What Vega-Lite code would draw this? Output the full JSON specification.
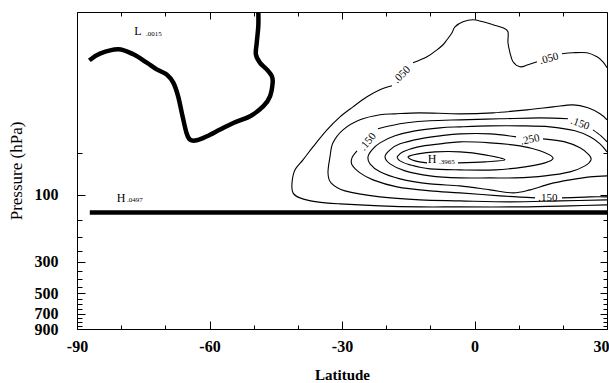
{
  "$schema": "https://vega.github.io/schema/vega-lite/v6.json",
  "width": 530,
  "height": 317,
  "autosize": {"type": "none"},
  "padding": {"left": 77, "top": 12, "right": 2, "bottom": 54},
  "background": "white",
  "config": {
    "view": {"stroke": "black", "strokeWidth": 1},
    "font": "Liberation Serif",
    "axis": {"grid": false, "domain": false, "tickColor": "black", "labelColor": "#000000", "titleColor": "#000000", "labelFont": "Liberation Serif", "titleFont": "Liberation Serif", "tickWidth": 1}
  },
  "datasets": {
    "thin": [
      {"c": "050a", "i": 0, "lat": 30, "p": 12.47}, {"c": "050a", "i": 1, "lat": 29.09, "p": 11.3}, {"c": "050a", "i": 2, "lat": 27.74, "p": 10.42}, {"c": "050a", "i": 3, "lat": 25.47, "p": 9.75}, {"c": "050a", "i": 4, "lat": 22.3, "p": 9.75}, {"c": "050a", "i": 5, "lat": 19.81, "p": 9.92},
      {"c": "050b", "i": 0, "lat": 14.15, "p": 11.3}, {"c": "050b", "i": 1, "lat": 12.11, "p": 11.87}, {"c": "050b", "i": 2, "lat": 10.3, "p": 12.27}, {"c": "050b", "i": 3, "lat": 8.72, "p": 11.3}, {"c": "050b", "i": 4, "lat": 8.04, "p": 9.75}, {"c": "050b", "i": 5, "lat": 7.58, "p": 8.27}, {"c": "050b", "i": 6, "lat": 7.58, "p": 6.91}, {"c": "050b", "i": 7, "lat": 6.45, "p": 6.47}, {"c": "050b", "i": 8, "lat": 4.19, "p": 6.16}, {"c": "050b", "i": 9, "lat": 1.92, "p": 5.87}, {"c": "050b", "i": 10, "lat": -0.34, "p": 5.68}, {"c": "050b", "i": 11, "lat": -2.6, "p": 5.87}, {"c": "050b", "i": 12, "lat": -4.42, "p": 6.37}, {"c": "050b", "i": 13, "lat": -5.09, "p": 7.03}, {"c": "050b", "i": 14, "lat": -6.23, "p": 7.88}, {"c": "050b", "i": 15, "lat": -7.13, "p": 8.55}, {"c": "050b", "i": 16, "lat": -8.49, "p": 9.29}, {"c": "050b", "i": 17, "lat": -10.75, "p": 10.42}, {"c": "050b", "i": 18, "lat": -13.92, "p": 11.49},
      {"c": "050c", "i": 0, "lat": -18.68, "p": 16.75}, {"c": "050c", "i": 1, "lat": -21.4, "p": 17.89}, {"c": "050c", "i": 2, "lat": -24.34, "p": 20.07}, {"c": "050c", "i": 3, "lat": -27.51, "p": 23.64}, {"c": "050c", "i": 4, "lat": -30.45, "p": 27.85}, {"c": "050c", "i": 5, "lat": -33.4, "p": 34.46}, {"c": "050c", "i": 6, "lat": -36.57, "p": 45.53}, {"c": "050c", "i": 7, "lat": -38.83, "p": 56.35}, {"c": "050c", "i": 8, "lat": -40.64, "p": 66.38}, {"c": "050c", "i": 9, "lat": -41.32, "p": 82.14}, {"c": "050c", "i": 10, "lat": -41.09, "p": 96.78}, {"c": "050c", "i": 11, "lat": -39.51, "p": 105.04}, {"c": "050c", "i": 12, "lat": -35.66, "p": 112.16}, {"c": "050c", "i": 13, "lat": -30.45, "p": 115.9}, {"c": "050c", "i": 14, "lat": -21.4, "p": 119.76}, {"c": "050c", "i": 15, "lat": -12.34, "p": 121.74}, {"c": "050c", "i": 16, "lat": -3.28, "p": 121.74}, {"c": "050c", "i": 17, "lat": 10.3, "p": 121.74}, {"c": "050c", "i": 18, "lat": 21.62, "p": 119.76}, {"c": "050c", "i": 19, "lat": 30, "p": 117.81},
      {"c": "100", "i": 0, "lat": 30, "p": 29.25}, {"c": "100", "i": 1, "lat": 28.42, "p": 26.51}, {"c": "100", "i": 2, "lat": 25.7, "p": 24.03}, {"c": "100", "i": 3, "lat": 22.3, "p": 22.88}, {"c": "100", "i": 4, "lat": 17.77, "p": 23.64}, {"c": "100", "i": 5, "lat": 11.89, "p": 24.83}, {"c": "100", "i": 6, "lat": 4.19, "p": 26.08}, {"c": "100", "i": 7, "lat": -3.28, "p": 26.51}, {"c": "100", "i": 8, "lat": -12.34, "p": 26.08}, {"c": "100", "i": 9, "lat": -18.0, "p": 26.51}, {"c": "100", "i": 10, "lat": -21.4, "p": 26.95}, {"c": "100", "i": 11, "lat": -25.92, "p": 29.25}, {"c": "100", "i": 12, "lat": -29.77, "p": 34.46}, {"c": "100", "i": 13, "lat": -32.04, "p": 42.65}, {"c": "100", "i": 14, "lat": -32.72, "p": 53.64}, {"c": "100", "i": 15, "lat": -33.17, "p": 69.72}, {"c": "100", "i": 16, "lat": -32.49, "p": 82.14}, {"c": "100", "i": 17, "lat": -29.32, "p": 93.65}, {"c": "100", "i": 18, "lat": -21.4, "p": 103.33}, {"c": "100", "i": 19, "lat": -12.34, "p": 108.54}, {"c": "100", "i": 20, "lat": -3.28, "p": 110.33}, {"c": "100", "i": 21, "lat": 8.04, "p": 112.16}, {"c": "100", "i": 22, "lat": 19.36, "p": 110.33}, {"c": "100", "i": 23, "lat": 30, "p": 108.54},
      {"c": "150a", "i": 0, "lat": -26.6, "p": 48.62}, {"c": "150a", "i": 1, "lat": -27.74, "p": 54.53}, {"c": "150a", "i": 2, "lat": -27.74, "p": 61.16}, {"c": "150a", "i": 3, "lat": -25.92, "p": 69.72}, {"c": "150a", "i": 4, "lat": -22.98, "p": 78.2}, {"c": "150a", "i": 5, "lat": -17.55, "p": 87.71}, {"c": "150a", "i": 6, "lat": -10.08, "p": 93.65}, {"c": "150a", "i": 7, "lat": -3.28, "p": 96.78}, {"c": "150a", "i": 8, "lat": 5.77, "p": 101.65}, {"c": "150a", "i": 9, "lat": 13.7, "p": 105.04},
      {"c": "150b", "i": 0, "lat": 19.81, "p": 105.04}, {"c": "150b", "i": 1, "lat": 26.15, "p": 103.33}, {"c": "150b", "i": 2, "lat": 30, "p": 103.33},
      {"c": "150c", "i": 0, "lat": -21.85, "p": 33.9}, {"c": "150c", "i": 1, "lat": -19.13, "p": 32.27}, {"c": "150c", "i": 2, "lat": -15.28, "p": 30.72}, {"c": "150c", "i": 3, "lat": -10.08, "p": 29.73}, {"c": "150c", "i": 4, "lat": -3.28, "p": 29.25}, {"c": "150c", "i": 5, "lat": 5.77, "p": 28.77}, {"c": "150c", "i": 6, "lat": 14.83, "p": 28.31}, {"c": "150c", "i": 7, "lat": 21.17, "p": 28.77},
      {"c": "150d", "i": 0, "lat": 26.83, "p": 34.46}, {"c": "150d", "i": 1, "lat": 28.64, "p": 38.02}, {"c": "150d", "i": 2, "lat": 30, "p": 41.95},
      {"c": "200", "i": 0, "lat": 30, "p": 49.42}, {"c": "200", "i": 1, "lat": 28.42, "p": 43.35}, {"c": "200", "i": 2, "lat": 26.15, "p": 38.65}, {"c": "200", "i": 3, "lat": 22.75, "p": 35.03}, {"c": "200", "i": 4, "lat": 17.09, "p": 32.81}, {"c": "200", "i": 5, "lat": 10.3, "p": 32.27}, {"c": "200", "i": 6, "lat": 3.51, "p": 32.27}, {"c": "200", "i": 7, "lat": -3.28, "p": 32.81}, {"c": "200", "i": 8, "lat": -7.81, "p": 33.35}, {"c": "200", "i": 9, "lat": -13.47, "p": 35.03}, {"c": "200", "i": 10, "lat": -18.0, "p": 38.02}, {"c": "200", "i": 11, "lat": -21.4, "p": 42.65}, {"c": "200", "i": 12, "lat": -23.21, "p": 47.83}, {"c": "200", "i": 13, "lat": -24.11, "p": 53.64}, {"c": "200", "i": 14, "lat": -23.66, "p": 60.16}, {"c": "200", "i": 15, "lat": -21.4, "p": 68.59}, {"c": "200", "i": 16, "lat": -16.87, "p": 76.93}, {"c": "200", "i": 17, "lat": -10.08, "p": 83.49}, {"c": "200", "i": 18, "lat": -3.28, "p": 86.28}, {"c": "200", "i": 19, "lat": 3.51, "p": 92.13}, {"c": "200", "i": 20, "lat": 8.72, "p": 96.78}, {"c": "200", "i": 21, "lat": 12.57, "p": 92.13}, {"c": "200", "i": 22, "lat": 17.09, "p": 83.49}, {"c": "200", "i": 23, "lat": 21.62, "p": 78.2}, {"c": "200", "i": 24, "lat": 26.15, "p": 74.45}, {"c": "200", "i": 25, "lat": 30, "p": 73.24},
      {"c": "250", "i": 0, "lat": 15.51, "p": 39.94}, {"c": "250", "i": 1, "lat": 20.49, "p": 41.95}, {"c": "250", "i": 2, "lat": 23.89, "p": 46.28}, {"c": "250", "i": 3, "lat": 25.92, "p": 51.91}, {"c": "250", "i": 4, "lat": 26.38, "p": 56.35}, {"c": "250", "i": 5, "lat": 25.02, "p": 62.17}, {"c": "250", "i": 6, "lat": 21.62, "p": 68.59}, {"c": "250", "i": 7, "lat": 15.96, "p": 73.24}, {"c": "250", "i": 8, "lat": 9.17, "p": 75.68}, {"c": "250", "i": 9, "lat": 3.51, "p": 75.68}, {"c": "250", "i": 10, "lat": -3.28, "p": 75.68}, {"c": "250", "i": 11, "lat": -10.08, "p": 73.24}, {"c": "250", "i": 12, "lat": -15.74, "p": 67.48}, {"c": "250", "i": 13, "lat": -19.13, "p": 60.16}, {"c": "250", "i": 14, "lat": -20.26, "p": 53.64}, {"c": "250", "i": 15, "lat": -19.13, "p": 47.83}, {"c": "250", "i": 16, "lat": -16.87, "p": 43.35}, {"c": "250", "i": 17, "lat": -12.34, "p": 39.94}, {"c": "250", "i": 18, "lat": -7.81, "p": 38.02}, {"c": "250", "i": 19, "lat": -3.28, "p": 36.8}, {"c": "250", "i": 20, "lat": 3.51, "p": 36.8}, {"c": "250", "i": 21, "lat": 9.4, "p": 38.65},
      {"c": "300", "i": 0, "lat": -17.55, "p": 53.64}, {"c": "300", "i": 1, "lat": -16.19, "p": 49.42}, {"c": "300", "i": 2, "lat": -12.79, "p": 45.53}, {"c": "300", "i": 3, "lat": -7.81, "p": 43.35}, {"c": "300", "i": 4, "lat": -3.28, "p": 41.95}, {"c": "300", "i": 5, "lat": 3.51, "p": 42.65}, {"c": "300", "i": 6, "lat": 10.3, "p": 44.79}, {"c": "300", "i": 7, "lat": 14.83, "p": 48.62}, {"c": "300", "i": 8, "lat": 17.77, "p": 54.53}, {"c": "300", "i": 9, "lat": 15.96, "p": 59.19}, {"c": "300", "i": 10, "lat": 11.43, "p": 63.2}, {"c": "300", "i": 11, "lat": 4.64, "p": 66.38}, {"c": "300", "i": 12, "lat": -3.28, "p": 66.38}, {"c": "300", "i": 13, "lat": -10.08, "p": 65.3}, {"c": "300", "i": 14, "lat": -14.6, "p": 61.16}, {"c": "300", "i": 15, "lat": -16.87, "p": 57.28}, {"c": "300", "i": 16, "lat": -17.55, "p": 53.64},
      {"c": "350", "i": 0, "lat": -3.74, "p": 59.19}, {"c": "350", "i": 1, "lat": 2.38, "p": 58.22}, {"c": "350", "i": 2, "lat": 6.91, "p": 56.35}, {"c": "350", "i": 3, "lat": 2.38, "p": 51.91}, {"c": "350", "i": 4, "lat": -3.28, "p": 49.42}, {"c": "350", "i": 5, "lat": -8.94, "p": 49.42}, {"c": "350", "i": 6, "lat": -12.79, "p": 51.07}, {"c": "350", "i": 7, "lat": -15.06, "p": 53.64}, {"c": "350", "i": 8, "lat": -13.47, "p": 57.28}, {"c": "350", "i": 9, "lat": -10.75, "p": 59.19}
    ],
    "thick": [
      {"c": "L", "i": 0, "lat": -87.2, "p": 11.04}, {"c": "L", "i": 1, "lat": -84.8, "p": 9.89}, {"c": "L", "i": 2, "lat": -80.65, "p": 9.21}, {"c": "L", "i": 3, "lat": -77.25, "p": 10.0}, {"c": "L", "i": 4, "lat": -74.2, "p": 11.46}, {"c": "L", "i": 5, "lat": -71.95, "p": 12.8}, {"c": "L", "i": 6, "lat": -69.7, "p": 13.9}, {"c": "L", "i": 7, "lat": -68.2, "p": 15.9}, {"c": "L", "i": 8, "lat": -67.1, "p": 19.9}, {"c": "L", "i": 9, "lat": -66.1, "p": 27.6}, {"c": "L", "i": 10, "lat": -65.2, "p": 36.3}, {"c": "L", "i": 11, "lat": -64.4, "p": 40.5}, {"c": "L", "i": 12, "lat": -62.9, "p": 40.9}, {"c": "L", "i": 13, "lat": -60.6, "p": 38.3}, {"c": "L", "i": 14, "lat": -57.6, "p": 34.3}, {"c": "L", "i": 15, "lat": -54.6, "p": 30.8}, {"c": "L", "i": 16, "lat": -50.8, "p": 27.6}, {"c": "L", "i": 17, "lat": -47.8, "p": 23.4}, {"c": "L", "i": 18, "lat": -46.3, "p": 19.9}, {"c": "L", "i": 19, "lat": -45.7, "p": 15.9}, {"c": "L", "i": 20, "lat": -45.9, "p": 14.3}, {"c": "L", "i": 21, "lat": -47.05, "p": 12.8}, {"c": "L", "i": 22, "lat": -48.6, "p": 11.46}, {"c": "L", "i": 23, "lat": -49.5, "p": 10.0}, {"c": "L", "i": 24, "lat": -49.3, "p": 8.25}, {"c": "L", "i": 25, "lat": -48.95, "p": 6.28}, {"c": "L", "i": 26, "lat": -48.95, "p": 4.9},
      {"c": "H", "i": 0, "lat": -87.1, "p": 133.3}, {"c": "H", "i": 1, "lat": 30, "p": 133.3}
    ],
    "labels": [
      {"id": "a", "t": ".050", "lat": -16.42, "p": 13.99},
      {"id": "b", "t": ".050", "lat": 16.87, "p": 10.76},
      {"id": "c", "t": ".150", "lat": -24.11, "p": 41.95},
      {"id": "d", "t": ".150", "lat": 23.89, "p": 31.23},
      {"id": "e", "t": ".250", "lat": 12.57, "p": 40.6},
      {"id": "f", "t": ".150", "lat": 16.64, "p": 105.9},
      {"id": "big", "t": "H", "lat": -9.62, "p": 55.43},
      {"id": "big", "t": "L", "lat": -76.19, "p": 6.8},
      {"id": "big", "t": "H", "lat": -80.04, "p": 105.04},
      {"id": "sub", "t": ".3965", "lat": -6.23, "p": 58.22},
      {"id": "sub", "t": ".0015", "lat": -72.57, "p": 7.2},
      {"id": "sub", "t": ".0497", "lat": -76.87, "p": 108.54}
    ]
  },
  "layer": [
    {
      "data": {"name": "thin"},
      "mark": {"type": "line", "interpolate": "cardinal", "stroke": "black", "strokeWidth": 1.1, "clip": true},
      "encoding": {
        "x": {"field": "lat", "type": "quantitative", "scale": {"domain": [-90, 30], "nice": false, "zero": false},
          "axis": {"orient": "bottom", "values": [-90, -60, -30, 0, 30], "tickSize": -8, "labelPadding": 17, "labelFontSize": 16, "labelFontWeight": "bold", "labelFlush": false, "labelOverlap": false, "labelExpr": "'' + datum.value",
            "labelAlign": {"condition": {"test": "datum.value == 30", "value": "right"}, "value": "center"},
            "labelOffset": {"condition": {"test": "datum.value == 30", "value": 2}, "value": 0},
            "title": "Latitude", "titleFontSize": 15, "titleFontWeight": "bold", "titlePadding": 13}},
        "y": {"field": "p", "type": "quantitative", "scale": {"type": "log", "domain": [5, 900], "reverse": true, "nice": false, "zero": false},
          "axis": {"orient": "left", "values": [100, 300, 500, 700, 900], "tickSize": -8, "labelPadding": 27, "labelFontSize": 16, "labelFontWeight": "bold", "labelFlush": false, "labelOverlap": false, "labelExpr": "'' + datum.value", "title": "Pressure (hPa)", "titleFontSize": 17, "titleFontWeight": "normal", "titlePadding": 9}},
        "detail": {"field": "c"},
        "order": {"field": "i", "type": "quantitative"}
      }
    },
    {
      "data": {"name": "thick"},
      "mark": {"type": "line", "interpolate": "cardinal", "stroke": "black", "strokeWidth": 4.5, "clip": true},
      "encoding": {
        "x": {"field": "lat", "type": "quantitative", "scale": {"domain": [-90, 30], "nice": false, "zero": false},
          "axis": {"orient": "bottom", "values": [-80, -70, -50, -40, -20, -10, 10, 20], "tickSize": -4, "labels": false, "title": null}},
        "y": {"field": "p", "type": "quantitative", "scale": {"type": "log", "domain": [5, 900], "reverse": true, "nice": false, "zero": false},
          "axis": {"orient": "left", "values": [50, 150, 200, 250, 350, 400, 450, 550, 600, 650, 750, 800, 850], "tickSize": -5, "labels": false, "title": null}},
        "detail": {"field": "c"},
        "order": {"field": "i", "type": "quantitative"}
      }
    },
    {
      "data": {"name": "labels"},
      "transform": [{"filter": "datum.id == 'a'"}],
      "mark": {"type": "text", "angle": -45, "fontSize": 11, "font": "Liberation Serif", "align": "center", "baseline": "middle", "fill": "#000000"},
      "encoding": {
        "x": {"field": "lat", "type": "quantitative", "scale": {"domain": [-90, 30], "nice": false, "zero": false},
          "axis": {"orient": "top", "values": [-90, -60, -30, 0, 30], "tickSize": -7, "labels": false, "title": null}},
        "y": {"field": "p", "type": "quantitative", "scale": {"type": "log", "domain": [5, 900], "reverse": true, "nice": false, "zero": false},
          "axis": {"orient": "right", "values": [100, 300, 500, 700, 900], "tickSize": -7, "labels": false, "title": null}},
        "text": {"field": "t"}
      }
    },
    {
      "data": {"name": "labels"},
      "transform": [{"filter": "datum.id == 'b'"}],
      "mark": {"type": "text", "angle": -15, "fontSize": 11, "font": "Liberation Serif", "align": "center", "baseline": "middle", "fill": "#000000"},
      "encoding": {
        "x": {"field": "lat", "type": "quantitative", "scale": {"domain": [-90, 30], "nice": false, "zero": false},
          "axis": {"orient": "top", "values": [-80, -70, -50, -40, -20, -10, 10, 20], "tickSize": -4, "labels": false, "title": null}},
        "y": {"field": "p", "type": "quantitative", "scale": {"type": "log", "domain": [5, 900], "reverse": true, "nice": false, "zero": false},
          "axis": {"orient": "right", "values": [50, 150, 200, 250, 350, 400, 450, 550, 600, 650, 750, 800, 850], "tickSize": -4, "labels": false, "title": null}},
        "text": {"field": "t"}
      }
    },
    {
      "data": {"name": "labels"},
      "transform": [{"filter": "datum.id == 'c'"}],
      "mark": {"type": "text", "angle": -50, "fontSize": 11, "font": "Liberation Serif", "align": "center", "baseline": "middle", "fill": "#000000"},
      "encoding": {
        "x": {"field": "lat", "type": "quantitative", "scale": {"domain": [-90, 30], "nice": false, "zero": false}, "axis": null},
        "y": {"field": "p", "type": "quantitative", "scale": {"type": "log", "domain": [5, 900], "reverse": true, "nice": false, "zero": false}, "axis": null},
        "text": {"field": "t"}
      }
    },
    {
      "data": {"name": "labels"},
      "transform": [{"filter": "datum.id == 'd'"}],
      "mark": {"type": "text", "angle": 20, "fontSize": 11, "font": "Liberation Serif", "align": "center", "baseline": "middle", "fill": "#000000"},
      "encoding": {
        "x": {"field": "lat", "type": "quantitative", "scale": {"domain": [-90, 30], "nice": false, "zero": false}, "axis": null},
        "y": {"field": "p", "type": "quantitative", "scale": {"type": "log", "domain": [5, 900], "reverse": true, "nice": false, "zero": false}, "axis": null},
        "text": {"field": "t"}
      }
    },
    {
      "data": {"name": "labels"},
      "transform": [{"filter": "datum.id == 'e'"}],
      "mark": {"type": "text", "angle": -12, "fontSize": 11, "font": "Liberation Serif", "align": "center", "baseline": "middle", "fill": "#000000"},
      "encoding": {
        "x": {"field": "lat", "type": "quantitative", "scale": {"domain": [-90, 30], "nice": false, "zero": false}, "axis": null},
        "y": {"field": "p", "type": "quantitative", "scale": {"type": "log", "domain": [5, 900], "reverse": true, "nice": false, "zero": false}, "axis": null},
        "text": {"field": "t"}
      }
    },
    {
      "data": {"name": "labels"},
      "transform": [{"filter": "datum.id == 'f'"}],
      "mark": {"type": "text", "fontSize": 11, "font": "Liberation Serif", "align": "center", "baseline": "middle", "fill": "#000000"},
      "encoding": {
        "x": {"field": "lat", "type": "quantitative", "scale": {"domain": [-90, 30], "nice": false, "zero": false}, "axis": null},
        "y": {"field": "p", "type": "quantitative", "scale": {"type": "log", "domain": [5, 900], "reverse": true, "nice": false, "zero": false}, "axis": null},
        "text": {"field": "t"}
      }
    },
    {
      "data": {"name": "labels"},
      "transform": [{"filter": "datum.id == 'big'"}],
      "mark": {"type": "text", "fontSize": 12, "font": "Liberation Serif", "align": "center", "baseline": "middle", "fill": "#000000"},
      "encoding": {
        "x": {"field": "lat", "type": "quantitative", "scale": {"domain": [-90, 30], "nice": false, "zero": false}, "axis": null},
        "y": {"field": "p", "type": "quantitative", "scale": {"type": "log", "domain": [5, 900], "reverse": true, "nice": false, "zero": false}, "axis": null},
        "text": {"field": "t"}
      }
    },
    {
      "data": {"name": "labels"},
      "transform": [{"filter": "datum.id == 'sub'"}],
      "mark": {"type": "text", "fontSize": 7, "font": "Liberation Serif", "align": "center", "baseline": "middle", "fill": "#000000"},
      "encoding": {
        "x": {"field": "lat", "type": "quantitative", "scale": {"domain": [-90, 30], "nice": false, "zero": false}, "axis": null},
        "y": {"field": "p", "type": "quantitative", "scale": {"type": "log", "domain": [5, 900], "reverse": true, "nice": false, "zero": false}, "axis": null},
        "text": {"field": "t"}
      }
    }
  ],
  "resolve": {"axis": {"x": "independent", "y": "independent"}}
}
